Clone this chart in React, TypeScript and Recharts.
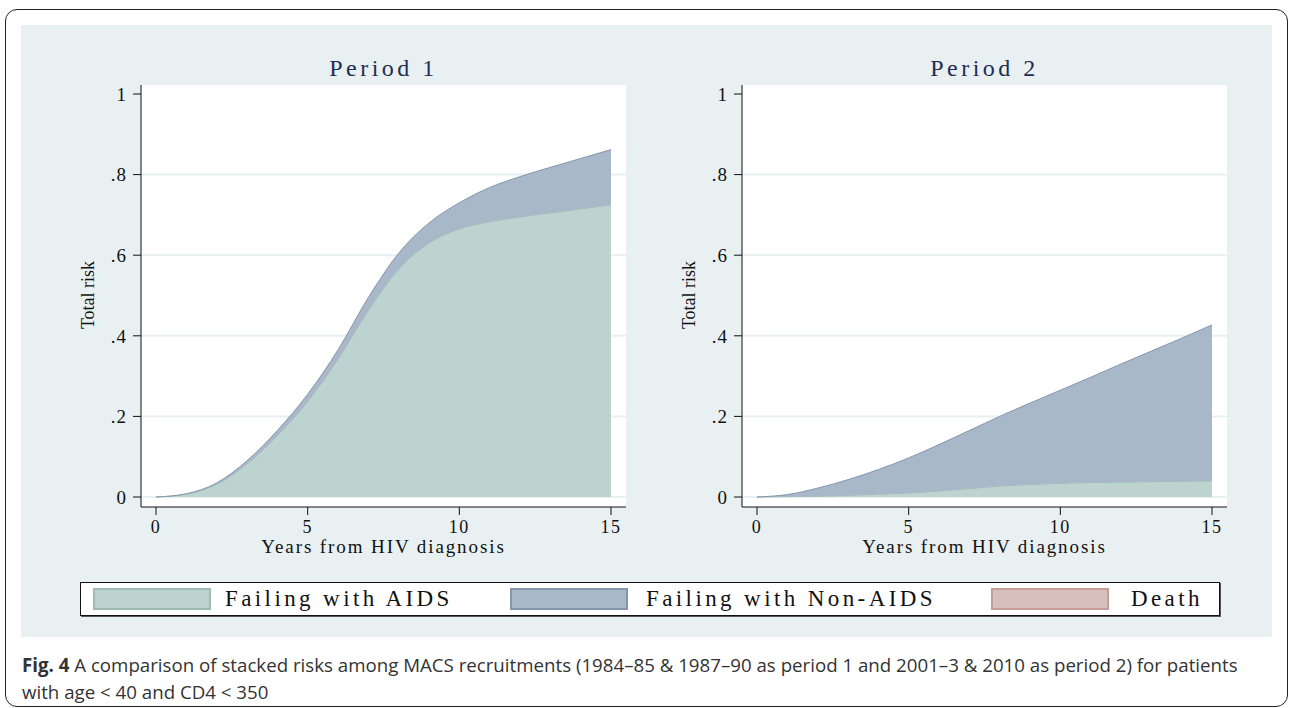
import { Area, AreaChart, CartesianGrid, XAxis, YAxis } from "recharts"

// years from HIV diagnosis
const years = [0, 1, 2, 3, 4, 5, 6, 7, 8, 9, 10, 11, 12, 13, 14, 15]

// stacked components, period 1
const aidsP1 = [0, 0.007, 0.031, 0.082, 0.152, 0.237, 0.342, 0.463, 0.565, 0.63, 0.665, 0.683, 0.695, 0.705, 0.715, 0.725]
const nonAidsP1 = [0, 0.001, 0.004, 0.008, 0.013, 0.018, 0.023, 0.032, 0.04, 0.05, 0.065, 0.085, 0.1, 0.113, 0.125, 0.137]
const deathP1 = [0, 0, 0, 0, 0, 0, 0, 0, 0, 0, 0, 0, 0, 0, 0, 0]

// stacked components, period 2
const aidsP2 = [0, 0.001, 0.002, 0.004, 0.007, 0.01, 0.015, 0.021, 0.027, 0.031, 0.034, 0.036, 0.037, 0.038, 0.039, 0.04]
const nonAidsP2 = [0, 0.005, 0.02, 0.039, 0.061, 0.087, 0.115, 0.144, 0.173, 0.202, 0.231, 0.261, 0.293, 0.324, 0.355, 0.387]
const deathP2 = [0, 0, 0, 0, 0, 0, 0, 0, 0, 0, 0, 0, 0, 0, 0, 0]

const xTicks = [0, 5, 10, 15]
const yTicks = [0, 0.2, 0.4, 0.6, 0.8, 1]

const series = [
  { key: "aids", name: "Failing with AIDS", fill: "#bdd3cf", stroke: "#9dbab4" },
  { key: "nonAids", name: "Failing with Non-AIDS", fill: "#a8b8c9", stroke: "#8496ad" },
  { key: "death", name: "Death", fill: "#d6bfbd", stroke: "#c49d99" },
]

const serif = "'Liberation Serif', 'Times New Roman', serif"
const panelBg = "#e8f0f2"

const toRows = (aids: number[], nonAids: number[], death: number[]) =>
  years.map((t, i) => ({ t, aids: aids[i], nonAids: nonAids[i], death: death[i] }))

const fmtY = (v: number) => (v === 0 ? "0" : v === 1 ? "1" : String(v).replace(/^0/, ""))

function Panel({ title, data, left }: { title: string; data: any[]; left: number }) {
  return (
    <div style={{ position: "absolute", left, top: 0, width: 640, height: 580 }}>
      <div
        style={{
          position: "absolute", left: 141, width: 485, top: 55, textAlign: "center",
          fontFamily: serif, fontSize: 24, color: "#1f2d55", letterSpacing: 3.5,
        }}
      >
        {title}
      </div>
      <div
        style={{
          position: "absolute", left: 88, top: 295, width: 0, height: 0,
          fontFamily: serif, fontSize: 18, color: "#111",
        }}
      >
        <div style={{ transform: "translate(-50%, -50%) rotate(-90deg)", whiteSpace: "nowrap", position: "absolute" }}>
          Total risk
        </div>
      </div>
      <AreaChart
        width={600}
        height={580}
        data={data}
        margin={{ top: 85, right: 14, left: 41, bottom: 0 }}
        style={{ position: "absolute", left: 40, top: 0 }}
      >
        <CartesianGrid
          vertical={false}
          horizontalValues={[0, 0.2, 0.4, 0.6, 0.8]}
          stroke={panelBg}
          strokeWidth={2}
          fill="#ffffff"
        />
        <XAxis
          dataKey="t"
          type="number"
          domain={[0, 15]}
          ticks={xTicks}
          padding={{ left: 15, right: 15 }}
          height={73}
          tickSize={8}
          tickMargin={5}
          stroke="#111"
          tick={{ fontFamily: serif, fontSize: 18, fill: "#111", letterSpacing: 1.5 }}
          label={{ value: "Years from HIV diagnosis", position: "insideBottom", offset: 27, style: { fontFamily: serif, fontSize: 19, fill: "#111", letterSpacing: 1.9 } }}
        />
        <YAxis
          type="number"
          domain={[0, 1]}
          ticks={yTicks}
          tickFormatter={fmtY}
          padding={{ top: 9, bottom: 10 }}
          width={60}
          tickSize={8}
          tickMargin={6}
          stroke="#111"
          tick={{ fontFamily: serif, fontSize: 19, fill: "#111", letterSpacing: 1 }}
        />
        {series.map((s) => (
          <Area
            key={s.key}
            type="monotone"
            dataKey={s.key}
            stackId="1"
            fill={s.fill}
            fillOpacity={1}
            stroke={s.key === "death" ? "none" : s.stroke}
            strokeWidth={1}
            isAnimationActive={false}
          />
        ))}
      </AreaChart>
    </div>
  )
}

const legendSpots = [
  { swatch: 12, gap: 14 },
  { swatch: 429, gap: 18 },
  { swatch: 910, gap: 22 },
]

export default function App() {
  const p1 = toRows(aidsP1, nonAidsP1, deathP1)
  const p2 = toRows(aidsP2, nonAidsP2, deathP2)
  return (
    <div style={{ position: "relative", width: 1292, height: 708, background: "#fff", overflow: "hidden" }}>
      <style>{`body{margin:0}`}</style>
      <div
        style={{
          position: "absolute", left: 5, top: 9, width: 1283, height: 698,
          border: "1.5px solid #222", borderRadius: 12, boxSizing: "border-box",
        }}
      />
      <div style={{ position: "absolute", left: 21, top: 25, width: 1251, height: 612, background: panelBg }} />
      <Panel title="Period 1" data={p1} left={0} />
      <Panel title="Period 2" data={p2} left={601} />
      <div
        style={{
          position: "absolute", left: 80, top: 582, width: 1140, height: 34, boxSizing: "border-box",
          border: "1.5px solid #111", background: "#fff", boxShadow: "1px 1px 0 #555",
          fontFamily: serif, fontSize: 23, color: "#111", letterSpacing: 3.4,
        }}
      >
        {series.map((s, i) => (
          <div key={s.key} style={{ position: "absolute", left: legendSpots[i].swatch, top: 3, height: 26, display: "flex", alignItems: "center" }}>
            <div style={{ width: 118, height: 22, background: s.fill, border: `2px solid ${s.stroke}`, boxSizing: "border-box" }} />
            <span style={{ marginLeft: legendSpots[i].gap, whiteSpace: "nowrap" }}>{s.name}</span>
          </div>
        ))}
      </div>
      <div
        style={{
          position: "absolute", left: 22, top: 651, width: 1265,
          fontFamily: "'Open Sans', sans-serif", fontSize: 18.7, lineHeight: "27px", color: "#333",
        }}
      >
        <b>Fig. 4</b> A comparison of stacked risks among MACS recruitments (1984–85 &amp; 1987–90 as period 1 and 2001–3 &amp; 2010 as period 2) for patients
        <br />
        with age &lt; 40 and CD4 &lt; 350
      </div>
    </div>
  )
}
